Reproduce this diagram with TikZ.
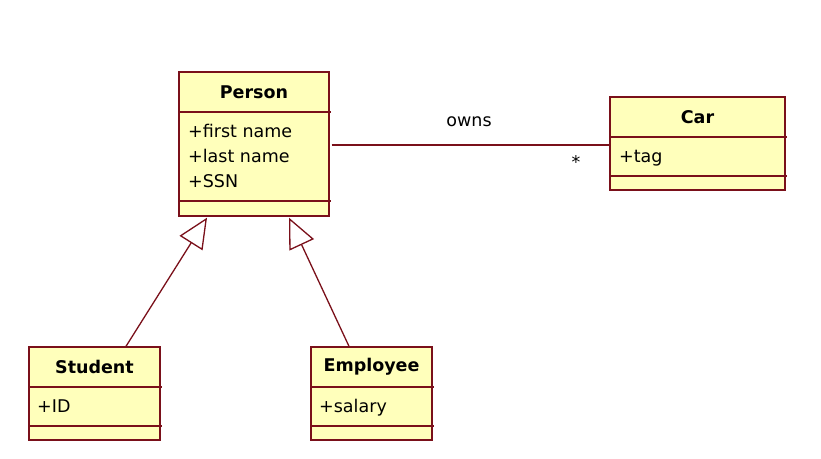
\documentclass[tikz,border=0pt]{standalone}
\usepackage{fontspec}
\setmainfont{DejaVu Sans}
\usetikzlibrary{calc,arrows.meta}
\definecolor{umlline}{RGB}{122,16,26}
\definecolor{umlfill}{RGB}{255,255,187}
\tikzset{
  cls/.style={draw=umlline, fill=umlfill, line width=1.4pt, inner sep=0pt},
  sep/.style={draw=umlline, line width=1.4pt},
  ttl/.style={font=\bfseries\fontsize{17.5}{20}\selectfont, inner sep=0pt, anchor=center},
  attr/.style={font=\fontsize{17.5}{20}\selectfont, inner sep=0pt, anchor=base west},
  conn/.style={draw=umlline, line width=1.3pt},
  gen/.style={conn, -{Triangle[open, length=30pt, width=27pt, fill=white]}},
  lbl/.style={font=\fontsize{17.5}{20}\selectfont, inner sep=0pt},
}
\begin{document}
\begin{tikzpicture}[x=1pt, y=-1pt]
\useasboundingbox (0,0) rectangle (821,458);
% Person
\node[cls, minimum width=150pt, minimum height=144pt] (P) at (254,144) {};
\draw[sep] (179,112) -- (331,112);
\draw[sep] (179,201) -- (331,201);
\node[ttl] (Pt) at (254,92) {Person};
\node[attr] (P1) at (188,137) {+first name};
\node[attr] (P2) at (188,162) {+last name};
\node[attr] (P3) at (188,187) {+SSN};
% Car
\node[cls, minimum width=175pt, minimum height=93pt] (C) at (697.5,143.5) {};
\draw[sep] (610,137) -- (787,137);
\draw[sep] (610,176) -- (787,176);
\node[ttl] (Ct) at (697.5,117) {Car};
\node[attr] (C1) at (619,162) {+tag};
% Student
\node[cls, minimum width=131pt, minimum height=93pt] (S) at (94.5,393.5) {};
\draw[sep] (29,387) -- (162,387);
\draw[sep] (29,426) -- (162,426);
\node[ttl] (St) at (94.5,367) {Student};
\node[attr] (S1) at (37,412) {+ID};
% Employee
\node[cls, minimum width=121pt, minimum height=93pt] (E) at (371.5,393.5) {};
\draw[sep] (311,387) -- (434,387);
\draw[sep] (311,426) -- (434,426);
\node[ttl] (Et) at (371.5,367) {Employee};
\node[attr] (E1) at (319,412) {+salary};
% connectors
\coordinate (PtipS) at ($(P.south)+(-47,1)$);
\coordinate (PtipE) at ($(P.south)+(35,1)$);
\coordinate (Stop) at ($(S.north)+(31.5,0)$);
\coordinate (Etop) at ($(E.north)+(-22.5,0)$);
\draw[gen] (Stop) -- (PtipS);
\draw[gen] (Etop) -- (PtipE);
\coordinate (Aa) at ($(P.east)+(2,1)$);
\draw[conn] (Aa) -- (C.west |- Aa);
\node[lbl] (own) at (469,122) {owns};
\node[lbl] (mult) at (576,162) {*};
\end{tikzpicture}
\end{document}
